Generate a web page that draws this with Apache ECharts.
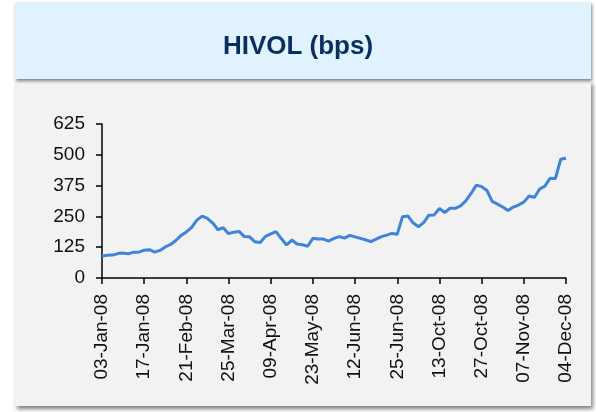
<!DOCTYPE html>
<html>
<head>
<meta charset="utf-8">
<script src="https://cdn.jsdelivr.net/npm/echarts@6/dist/echarts.min.js"></script>
<style>
  html, body { margin: 0; padding: 0; background: #ffffff; }
  #chart { width: 596px; height: 412px; }
</style>
</head>
<body>
<div id="chart"></div>
<script>
// tick labels, one every 8 observations
var tickLabels = ['03-Jan-08', '17-Jan-08', '21-Feb-08', '25-Mar-08', '09-Apr-08', '23-May-08',
  '12-Jun-08', '25-Jun-08', '13-Oct-08', '27-Oct-08', '07-Nov-08', '04-Dec-08'];

// HIVOL spread (bps)
var hivol = [
  89, 92, 93, 99, 101, 98, 105, 105,
  113, 115, 105, 112, 126, 136, 152, 173,
  187, 205, 235, 251, 242, 223, 196, 204,
  180, 186, 189, 168, 167, 147, 144, 169,
  179, 188, 160, 134, 154, 138, 135, 129,
  161, 158, 158, 150, 161, 168, 162, 173,
  167, 161, 155, 148, 158, 168, 174, 181,
  178, 249, 252, 224, 208, 225, 255, 256,
  282, 266, 283, 283, 293, 313, 343, 377,
  371, 355, 311, 300, 288, 274, 288, 296,
  308, 333, 327, 361, 373, 405, 404, 482,
  486
];

var step = 8;
var categories = hivol.map(function (v, i) {
  return i % step === 0 ? tickLabels[i / step] : '';
});

var chart = echarts.init(document.getElementById('chart'), null, { renderer: 'canvas' });

var option = {
  backgroundColor: '#ffffff',
  animation: false,
  graphic: [
    {
      type: 'rect', z: -10, silent: true,
      shape: { x: 15, y: 81, width: 576, height: 325 },
      style: { fill: '#f2f2f2', shadowBlur: 4, shadowOffsetX: 2, shadowOffsetY: 3, shadowColor: 'rgba(0,0,0,0.5)' }
    },
    {
      type: 'rect', z: -9, silent: true,
      shape: { x: 15, y: 2, width: 576, height: 77 },
      style: { fill: '#dff2fe', shadowBlur: 3, shadowOffsetX: 1, shadowOffsetY: 2, shadowColor: 'rgba(0,0,0,0.5)' }
    },
    {
      type: 'text', z: 10, silent: true,
      left: 'center', top: 34,
      style: { text: 'HIVOL (bps)', fill: '#0b2f5c', font: 'bold 26px "Liberation Sans", Arial, sans-serif' }
    }
  ],
  grid: { left: 102, right: 30, top: 124, bottom: 134, containLabel: false },
  xAxis: {
    type: 'category',
    data: categories,
    boundaryGap: false,
    axisLine: { lineStyle: { color: '#000000', width: 1.5 } },
    axisTick: { interval: step - 1, length: 6, lineStyle: { color: '#000000', width: 1.5 } },
    axisLabel: {
      interval: step - 1, rotate: 90, margin: 16,
      color: '#111111', fontSize: 19, fontFamily: '"Liberation Sans", Arial, sans-serif'
    },
    splitLine: { show: false }
  },
  yAxis: {
    type: 'value',
    min: 0, max: 625, interval: 125,
    axisLine: { show: true, lineStyle: { color: '#000000', width: 1.5 } },
    axisTick: { show: true, length: 6, lineStyle: { color: '#000000', width: 1.5 } },
    axisLabel: { margin: 17, color: '#111111', fontSize: 19, fontFamily: '"Liberation Sans", Arial, sans-serif' },
    splitLine: { show: false }
  },
  series: [{
    type: 'line',
    data: hivol,
    showSymbol: false,
    symbol: 'none',
    lineStyle: { color: '#3f84d8', width: 3 },
    z: 5
  }]
};

chart.setOption(option);
</script>
</body>
</html>
